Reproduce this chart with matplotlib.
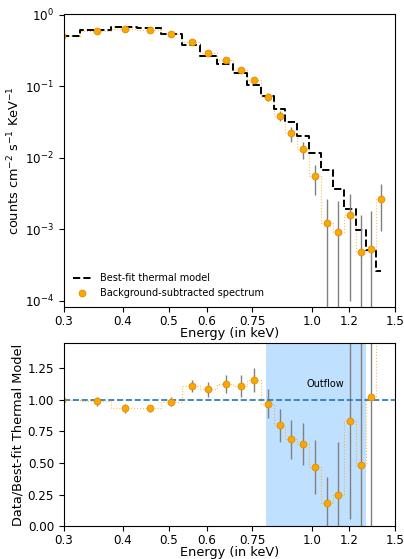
import numpy as np
import matplotlib
matplotlib.use('Agg')
import matplotlib.pyplot as plt
from matplotlib.ticker import FixedLocator, FixedFormatter, NullLocator

### Spectrum values
energy = [0.297, 0.352, 0.403, 0.455, 0.506, 0.558, 0.605, 0.659, 0.708, 0.756,
          0.807, 0.856, 0.903, 0.960, 1.016, 1.077, 1.139, 1.206, 1.273, 1.336, 1.404]
counts = [0.51, 0.60, 0.63, 0.62, 0.54, 0.415, 0.291, 0.232, 0.169, 0.122,
          0.0713, 0.039, 0.0219, 0.0131, 0.00555, 0.00123, 0.00092, 0.00160,
          0.000474, 0.000528, 0.00264]
counts_err = [0.018, 0.021, 0.024, 0.021, 0.019, 0.018, 0.016, 0.015, 0.013, 0.0102,
              0.0086, 0.0063, 0.0050, 0.0034, 0.0025, 0.00144, 0.00153, 0.0015,
              0.00112, 0.0013, 0.0017]
model = [0.51, 0.606, 0.675, 0.665, 0.548, 0.373, 0.268, 0.206, 0.152, 0.1055,
         0.0735, 0.0488, 0.0319, 0.0201, 0.01186, 0.0068, 0.00368, 0.00192,
         0.000985, 0.000517, 0.000257]

x_ticks = [0.3, 0.4, 0.5, 0.6, 0.75, 1.0, 1.2, 1.5]
x_ticklabels = ['0.3', '0.4', '0.5', '0.6', '0.75', '1.0', '1.2', '1.5']
outflow = (0.8, 1.3)

energy = np.array(energy)
counts = np.array(counts)
counts_err = np.array(counts_err)
model = np.array(model)
ratio = counts / model
ratio_err = counts_err / model

plt.rcParams['xtick.labelsize'] = 8.6
plt.rcParams['ytick.labelsize'] = 8.6
plt.rcParams['axes.labelsize'] = 9.3

fig = plt.figure(figsize=(4.04, 5.59), dpi=100)
ax1 = fig.add_axes([0.158, 0.451, 0.820, 0.524])
ax2 = fig.add_axes([0.158, 0.059, 0.820, 0.327])

def set_energy_axis(ax):
  ax.set_xscale('log')
  ax.set_xlim(0.3, 1.5)
  ax.xaxis.set_major_locator(FixedLocator(x_ticks))
  ax.xaxis.set_major_formatter(FixedFormatter(x_ticklabels))
  ax.xaxis.set_minor_locator(NullLocator())
  ax.tick_params(axis='x', pad=2)
  ax.set_xlabel('Energy (in keV)', labelpad=-0.5)

### Top panel: spectrum + model
ax1.step(energy, counts, where='mid', color='orange', lw=0.8, ls=':', alpha=0.7)
model_line, = ax1.step(energy, model, where='mid', color='black', lw=1.4, ls='--',
                       label='Best-fit thermal model')
eb = ax1.errorbar(energy, counts, yerr=counts_err, fmt='o', color='orange', mec='#d08a00',
                  mew=0.5, ms=5, ecolor='gray', elinewidth=1)
eb[0].set_label('Background-subtracted spectrum')
ax1.set_yscale('log')
ax1.set_ylim(8.2e-5, 1.03)
ax1.yaxis.set_minor_locator(NullLocator())
ax1.set_ylabel('counts cm$^{-2}$ s$^{-1}$ KeV$^{-1}$', labelpad=2)
set_energy_axis(ax1)
ax1.legend(handles=[model_line, eb[0]], loc='lower left', frameon=False, fontsize=7)

### Bottom panel: ratio
ax2.step(energy, ratio, where='mid', color='orange', lw=0.8, ls=':', alpha=0.7)
ax2.errorbar(energy, ratio, yerr=ratio_err, fmt='o', color='orange', mec='#d08a00',
             mew=0.5, ms=5, ecolor='gray', elinewidth=1)
ax2.axvspan(outflow[0], outflow[1], color='dodgerblue', alpha=0.28, lw=0)
ax2.axhline(1.0, color='tab:blue', ls='--', lw=1.2)
ax2.text(1.067, 1.125, 'Outflow', ha='center', va='center', fontsize=7)
ax2.set_ylim(0, 1.45)
ax2.set_yticks([0, 0.25, 0.5, 0.75, 1.0, 1.25])
ax2.set_yticklabels(['0.00', '0.25', '0.50', '0.75', '1.00', '1.25'])
ax2.set_ylabel('Data/Best-fit Thermal Model', labelpad=2)
set_energy_axis(ax2)

plt.savefig('out.png', dpi=100)
